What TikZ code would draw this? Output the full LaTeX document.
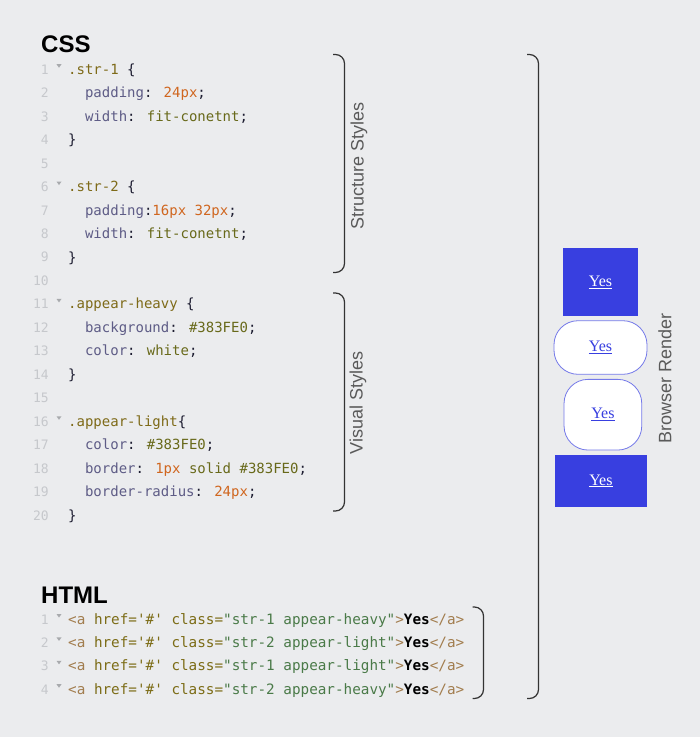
\documentclass[tikz,border=0pt]{standalone}
\usepackage{fontspec}
\setmainfont{Liberation Sans}
\newfontfamily\codefont{DejaVu Sans Mono}
\newfontfamily\headfont{Liberation Sans}
\newfontfamily\serifyes{Liberation Serif}
\definecolor{bgc}{HTML}{EBECEE}
\definecolor{csel}{HTML}{7E6A18}
\definecolor{cprop}{HTML}{5E5C86}
\definecolor{cval}{HTML}{68691A}
\definecolor{cnum}{HTML}{D0661F}
\definecolor{cpun}{HTML}{1C1C30}
\definecolor{clno}{HTML}{C6C8CC}
\definecolor{htag}{HTML}{A27D4E}
\definecolor{hattr}{HTML}{7C6C16}
\definecolor{hstr}{HTML}{4A7A48}
\definecolor{brand}{HTML}{383FE0}
\definecolor{brk}{HTML}{333333}
\definecolor{lbl}{HTML}{5A5A5A}
\newcommand\cSel[1]{\textcolor{csel}{#1}}
\newcommand\cProp[1]{\textcolor{cprop}{#1}}
\newcommand\cVal[1]{\textcolor{cval}{#1}}
\newcommand\cNum[1]{\textcolor{cnum}{#1}}
\newcommand\cPun[1]{\textcolor{cpun}{#1}}
\newcommand\hTag[1]{\textcolor{htag}{#1}}
\newcommand\hAttr[1]{\textcolor{hattr}{#1}}
\newcommand\hStr[1]{\textcolor{hstr}{#1}}
\newcommand\hLine[2]{\hTag{<a} \hAttr{href='\#'} \hAttr{class=}\hStr{"#1 #2"}\hTag{>}\textcolor{black}{\bfseries Yes}\hTag{</a>}}
\begin{document}
\begin{tikzpicture}[x=1pt,y=-1pt,
  code/.style={anchor=base west,inner sep=0pt,font=\codefont\fontsize{14}{14}\selectfont,text=cpun},
  hcode/.style={code,font=\codefont\fontsize{14.3}{14.3}\selectfont},
  lno/.style={anchor=base east,inner sep=0pt,font=\codefont\fontsize{13}{13}\selectfont,text=clno},
  fold/.style={fill=clno!85!black,draw=none},
  head/.style={anchor=base west,inner sep=0pt,font=\headfont\bfseries\fontsize{24}{24}\selectfont},
  sidelabel/.style={rotate=90,inner sep=0pt,font=\fontsize{18}{18}\selectfont,text=lbl},
  bracket/.style={draw=brk,line width=1.2pt,rounded corners=9pt},
  heavybox/.style={fill=brand,draw=none,inner sep=0pt,text=white,font=\serifyes\fontsize{16}{16}\selectfont},
  lightbox/.style={fill=white,draw=brand!70,line width=0.8pt,rounded corners=24pt,inner sep=0pt,text=brand,font=\serifyes\fontsize{16}{16}\selectfont}
]
\fill[bgc] (0,0) rectangle (700,737);
\useasboundingbox (0,0) rectangle (700,737);

% headings
\node[head] (css) at (41,52) {CSS};
\node[head] (html) at (41,603) {HTML};

% CSS line numbers
\foreach \n in {1,...,20} {
  \node[lno] (ln\n) at (49,{74.2+23.47*(\n-1)}) {\n};
}
% fold markers
\foreach \n in {1,6,11,16} {
  \fill[fold] ({56.5},{74.2+23.47*(\n-1)-10}) -- ({61.5},{74.2+23.47*(\n-1)-10}) -- ({59},{74.2+23.47*(\n-1)-6.5}) -- cycle;
}

% CSS code
\node[code] (c1) at (68,74.2) {\cSel{.str-1} \{};
\node[code] (c2) at (68,97.7) {\phantom{xx}\cProp{padding}: \cNum{24px};};
\node[code] (c3) at (68,121.1) {\phantom{xx}\cProp{width}: \cVal{fit-conetnt};};
\node[code] (c4) at (68,144.6) {\}};
\node[code] (c6) at (68,191.6) {\cSel{.str-2} \{};
\node[code] (c7) at (68,215.0) {\phantom{xx}\cProp{padding}:\cNum{16px 32px};};
\node[code] (c8) at (68,238.5) {\phantom{xx}\cProp{width}: \cVal{fit-conetnt};};
\node[code] (c9) at (68,262.0) {\}};
\node[code] (c11) at (68,308.9) {\cSel{.appear-heavy} \{};
\node[code] (c12) at (68,332.4) {\phantom{xx}\cProp{background}: \cVal{\#383FE0};};
\node[code] (c13) at (68,355.8) {\phantom{xx}\cProp{color}: \cVal{white};};
\node[code] (c14) at (68,379.3) {\}};
\node[code] (c16) at (68,426.3) {\cSel{.appear-light}\{};
\node[code] (c17) at (68,449.7) {\phantom{xx}\cProp{color}: \cVal{\#383FE0};};
\node[code] (c18) at (68,473.2) {\phantom{xx}\cProp{border}: \cNum{1px} \cVal{solid \#383FE0};};
\node[code] (c19) at (68,496.7) {\phantom{xx}\cProp{border-radius}: \cNum{24px};};
\node[code] (c20) at (68,520.1) {\}};

% HTML line numbers and code
\foreach \n in {1,...,4} {
  \node[lno] (hn\n) at (49,{624+23.4*(\n-1)}) {\n};
  \fill[fold] ({56.5},{624+23.4*(\n-1)-10}) -- ({61.5},{624+23.4*(\n-1)-10}) -- ({59},{624+23.4*(\n-1)-6.5}) -- cycle;
}
\node[hcode] (h1) at (68,624.0) {\hLine{str-1}{appear-heavy}};
\node[hcode] (h2) at (68,647.4) {\hLine{str-2}{appear-light}};
\node[hcode] (h3) at (68,670.8) {\hLine{str-1}{appear-light}};
\node[hcode] (h4) at (68,694.2) {\hLine{str-2}{appear-heavy}};

% brackets
\draw[bracket] (333,54.5) -- (344.5,54.5) -- (344.5,272.5) -- (333,272.5);
\draw[bracket] (333,293) -- (344.5,293) -- (344.5,511) -- (333,511);
\draw[bracket] (527,54.5) -- (538.5,54.5) -- (538.5,698.5) -- (527,698.5);
\draw[bracket] (472.5,607) -- (483.5,607) -- (483.5,698.5) -- (472.5,698.5);

% labels
\node[sidelabel] (lstruct) at (359,166) {Structure Styles};
\node[sidelabel] (lvisual) at (358,403) {Visual Styles};
\node[sidelabel] (lrender) at (665,378) {Browser Render};

% render
\node[heavybox,minimum width=74.4pt,minimum height=67.7pt] (r1) at (600.5,282.2) {\underline{Yes}};
\node[lightbox,minimum width=93pt,minimum height=53.6pt] (r2) at (600.5,347.5) {\underline{Yes}};
\node[lightbox,minimum width=77.7pt,minimum height=70.7pt] (r3) at (602.9,414.7) {\underline{Yes}};
\node[heavybox,minimum width=91.7pt,minimum height=51.7pt] (r4) at (600.9,480.9) {\underline{Yes}};
\end{tikzpicture}
\end{document}
